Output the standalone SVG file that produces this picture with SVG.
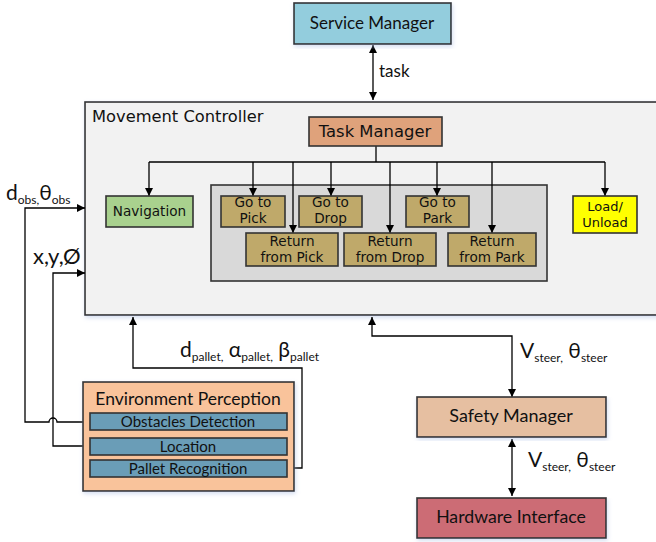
<svg xmlns="http://www.w3.org/2000/svg" width="656" height="542" viewBox="0 0 656 542">
  <defs>
    <marker id="arrow" viewBox="0 0 10 10" refX="10" refY="5" markerWidth="8" markerHeight="8" markerUnits="userSpaceOnUse" orient="auto-start-reverse">
      <path d="M0,0 L10,5 L0,10 z" fill="#000"/>
    </marker>
    <filter id="glow" x="-5%" y="-5%" width="110%" height="115%">
      <feGaussianBlur in="SourceAlpha" stdDeviation="2"/>
      <feOffset dx="1" dy="2" result="b"/>
      <feFlood flood-color="#9fb3e0" flood-opacity="0.45"/>
      <feComposite in2="b" operator="in"/>
      <feMerge><feMergeNode/><feMergeNode in="SourceGraphic"/></feMerge>
    </filter>
    <style>
      .box { stroke: #333; stroke-width: 1.6; }
      .wire { fill: none; stroke: #000; stroke-width: 1.3; }
      .vd { font-family: "DejaVu Sans", Verdana, sans-serif; fill: #111; text-anchor: middle; font-size: 13.6px; }
      .cb { font-family: Lato, "Open Sans", "DejaVu Sans", sans-serif; fill: #111; }
      .mid { text-anchor: middle; }
      .sub { font-size: 12px; }
    </style>
  </defs>

  <!-- Movement Controller container (drawn first so the wires sit on top) -->
  <g id="movement-controller">
    <rect class="box" x="85" y="102" width="580" height="213" fill="#F2F2F2" filter="url(#glow)"/>
    <text class="vd" x="92" y="122" style="text-anchor:start;font-size:16.3px">Movement Controller</text>
  </g>

  <g id="task-group">
    <rect class="box" x="211" y="185" width="336" height="96" fill="#D9D9D9"/>
  </g>

  <!-- connectors -->
  <g id="connectors">
    <!-- Service Manager <-> Movement Controller -->
    <line class="wire" x1="373" y1="45" x2="373" y2="100" marker-start="url(#arrow)" marker-end="url(#arrow)"/>
    <!-- task distribution bus -->
    <path class="wire" d="M376,146 V162" stroke-width="2.2"/>
    <path class="wire" d="M149,162 H605"/>
    <line class="wire" x1="149" y1="162" x2="149" y2="196" marker-end="url(#arrow)"/>
    <line class="wire" x1="253" y1="162" x2="253" y2="196" marker-end="url(#arrow)"/>
    <line class="wire" x1="293" y1="162" x2="293" y2="233" marker-end="url(#arrow)"/>
    <line class="wire" x1="331" y1="162" x2="331" y2="196" marker-end="url(#arrow)"/>
    <line class="wire" x1="390" y1="162" x2="390" y2="233" marker-end="url(#arrow)"/>
    <line class="wire" x1="437" y1="162" x2="437" y2="196" marker-end="url(#arrow)"/>
    <line class="wire" x1="492" y1="162" x2="492" y2="233" marker-end="url(#arrow)"/>
    <line class="wire" x1="605" y1="162" x2="605" y2="196" marker-end="url(#arrow)"/>
    <!-- obstacle feedback, hopping over the location wire -->
    <path class="wire" d="M90,422 H57 A4,4 0 0 0 49,422 H25 V208 H85" marker-end="url(#arrow)"/>
    <!-- location feedback -->
    <path class="wire" d="M90,446 H53 V273 H85" marker-end="url(#arrow)"/>
    <!-- pallet recognition feedback -->
    <path class="wire" d="M287,468 H302 V368 H133 V317" marker-end="url(#arrow)"/>
    <!-- Safety Manager <-> Movement Controller -->
    <path class="wire" d="M372,317 V336 H512 V397" marker-start="url(#arrow)" marker-end="url(#arrow)"/>
    <!-- Safety Manager <-> Hardware Interface -->
    <line class="wire" x1="512" y1="439" x2="512" y2="496" marker-start="url(#arrow)" marker-end="url(#arrow)"/>
  </g>

  <!-- connector labels -->
  <g id="labels" class="cb">
    <text x="379" y="77" font-size="17">task</text>
    <text x="6" y="200" font-size="21">d<tspan class="sub" dy="4">obs,</tspan><tspan dy="-4">θ</tspan><tspan class="sub" dy="4">obs</tspan></text>
    <text x="33" y="264" font-size="22">x,y,Ø</text>
    <text x="180" y="357" font-size="21">d<tspan class="sub" dy="4">pallet,</tspan><tspan dy="-4"> α</tspan><tspan class="sub" dy="4">pallet,</tspan><tspan dy="-4"> β</tspan><tspan class="sub" dy="4">pallet</tspan></text>
    <text x="520" y="358" font-size="21">V<tspan class="sub" dy="4">steer,</tspan><tspan dy="-4"> θ</tspan><tspan class="sub" dy="4">steer</tspan></text>
    <text x="528" y="467" font-size="21">V<tspan class="sub" dy="4">steer,</tspan><tspan dy="-4"> θ</tspan><tspan class="sub" dy="4">steer</tspan></text>
  </g>

  <!-- Service Manager -->
  <g id="service-manager">
    <rect class="box" x="294" y="3" width="157" height="41" fill="#93CDDD" filter="url(#glow)"/>
    <text class="cb mid" x="372" y="29" font-size="17">Service Manager</text>
  </g>

  <g id="task-manager">
    <rect class="box" x="309" y="117" width="133" height="29" fill="#DFA27B"/>
    <text class="vd" x="375" y="137" style="font-size:16.4px">Task Manager</text>
  </g>

  <g id="navigation">
    <rect class="box" x="106" y="196" width="87" height="31" fill="#A9D18E"/>
    <text class="vd" x="149.5" y="216">Navigation</text>
  </g>

  <g id="go-to-pick">
    <rect class="box" x="221" y="196" width="64" height="31" fill="#BFA96A"/>
    <text class="vd" x="253" y="207">Go to</text>
    <text class="vd" x="253" y="223">Pick</text>
  </g>
  <g id="go-to-drop">
    <rect class="box" x="299" y="196" width="63" height="31" fill="#BFA96A"/>
    <text class="vd" x="330.5" y="207">Go to</text>
    <text class="vd" x="330.5" y="223">Drop</text>
  </g>
  <g id="go-to-park">
    <rect class="box" x="406" y="196" width="63" height="31" fill="#BFA96A"/>
    <text class="vd" x="437.5" y="207">Go to</text>
    <text class="vd" x="437.5" y="223">Park</text>
  </g>
  <g id="return-from-pick">
    <rect class="box" x="246" y="233" width="92" height="33" fill="#BFA96A"/>
    <text class="vd" x="292" y="246">Return</text>
    <text class="vd" x="292" y="262">from Pick</text>
  </g>
  <g id="return-from-drop">
    <rect class="box" x="344" y="233" width="92" height="33" fill="#BFA96A"/>
    <text class="vd" x="390" y="246">Return</text>
    <text class="vd" x="390" y="262">from Drop</text>
  </g>
  <g id="return-from-park">
    <rect class="box" x="448" y="233" width="88" height="33" fill="#BFA96A"/>
    <text class="vd" x="492" y="246">Return</text>
    <text class="vd" x="492" y="262">from Park</text>
  </g>

  <g id="load-unload">
    <rect class="box" x="573" y="196" width="64" height="37" fill="#FFFF00"/>
    <text class="vd" x="605" y="211" style="font-size:13px">Load/</text>
    <text class="vd" x="605" y="227" style="font-size:13px">Unload</text>
  </g>

  <!-- Environment Perception -->
  <g id="environment-perception">
    <rect class="box" x="83" y="382" width="211" height="109" fill="#F9C39B" filter="url(#glow)"/>
    <text class="cb mid" x="188" y="405" font-size="17.5">Environment Perception</text>
  </g>
  <g id="obstacles-detection">
    <rect class="box" x="90" y="413" width="197" height="17" fill="#6A9DB7"/>
    <text class="cb mid" x="188" y="427" font-size="15">Obstacles Detection</text>
  </g>
  <g id="location">
    <rect class="box" x="90" y="438" width="197" height="17" fill="#6A9DB7"/>
    <text class="cb mid" x="188" y="452" font-size="15">Location</text>
  </g>
  <g id="pallet-recognition">
    <rect class="box" x="90" y="460" width="197" height="17" fill="#6A9DB7"/>
    <text class="cb mid" x="188" y="474" font-size="15">Pallet Recognition</text>
  </g>

  <!-- Safety Manager -->
  <g id="safety-manager">
    <rect class="box" x="417" y="397" width="189" height="40" fill="#E6BFA1" filter="url(#glow)"/>
    <text class="cb mid" x="511" y="422" font-size="18">Safety Manager</text>
  </g>

  <!-- Hardware Interface -->
  <g id="hardware-interface">
    <rect class="box" x="417" y="498" width="189" height="40" fill="#CC6C75" filter="url(#glow)"/>
    <text class="cb mid" x="511" y="523" font-size="17.7">Hardware Interface</text>
  </g>
</svg>
